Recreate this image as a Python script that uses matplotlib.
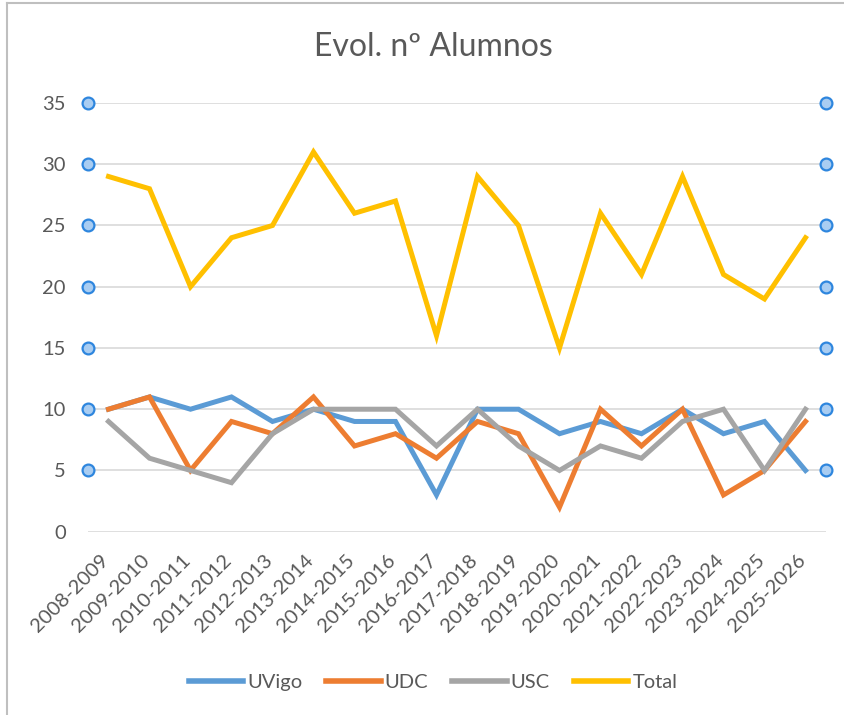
import matplotlib
matplotlib.use("Agg")
import matplotlib.pyplot as plt
from matplotlib.lines import Line2D
from matplotlib.transforms import ScaledTranslation

plt.rcParams['font.family'] = ['Lato', 'DejaVu Sans']

cursos = ["2008-2009", "2009-2010", "2010-2011", "2011-2012", "2012-2013", "2013-2014",
          "2014-2015", "2015-2016", "2016-2017", "2017-2018", "2018-2019", "2019-2020",
          "2020-2021", "2021-2022", "2022-2023", "2023-2024", "2024-2025", "2025-2026"]
uvigo = [10, 11, 10, 11, 9, 10, 9, 9, 3, 10, 10, 8, 9, 8, 10, 8, 9, 5]
udc = [10, 11, 5, 9, 8, 11, 7, 8, 6, 9, 8, 2, 10, 7, 10, 3, 5, 9]
usc = [9, 6, 5, 4, 8, 10, 10, 10, 7, 10, 7, 5, 7, 6, 9, 10, 5, 10]
total = [29, 28, 20, 24, 25, 31, 26, 27, 16, 29, 25, 15, 26, 21, 29, 21, 19, 24]
y_ticks = [0, 5, 10, 15, 20, 25, 30, 35]
marker_levels = [5, 10, 15, 20, 25, 30, 35]

series = [("UVigo", uvigo, "#5b9bd5"), ("UDC", udc, "#ed7d31"),
          ("USC", usc, "#a5a5a5"), ("Total", total, "#ffc000")]

W, H = 845, 715
fig = plt.figure(figsize=(W / 100, H / 100), dpi=100)
left, right, top, bottom = 88, 826, 103, 531.7
ax = fig.add_axes([left / W, 1 - bottom / H, (right - left) / W, (bottom - top) / H])

x = list(range(len(cursos)))
for name, vals, col in series:
    ax.plot(x, vals, color=col, lw=3.6, label=name, solid_joinstyle='miter', zorder=3)

ax.set_xlim(-0.5, len(cursos) - 0.5)
ax.set_ylim(0, 35)
ax.set_yticks(y_ticks)
ax.set_xticks(x)
ax.set_xticklabels(cursos, rotation=45, ha='right', va='top', rotation_mode='anchor')
ax.tick_params(axis='both', length=0, labelsize=14.5, labelcolor='#595959')
ax.tick_params(axis='y', pad=16)
ax.tick_params(axis='x', pad=14)
off = ScaledTranslation(-9 / 100, 0, fig.dpi_scale_trans)
for lab in ax.get_xticklabels():
    lab.set_transform(lab.get_transform() + off)
ax.grid(axis='y', color='#d9d9d9', lw=1.2)
ax.set_axisbelow(True)
for s in ax.spines.values():
    s.set_visible(False)

tr = ax.get_yaxis_transform()
for xa in (0, 1):
    ax.plot([xa] * len(marker_levels), marker_levels, ls='none', marker='o', ms=8.5,
            mfc='#a9cdf2', mec='#2e86de', mew=1.6, transform=tr, clip_on=False, zorder=4)

fig.text(433 / W, 1 - 47 / H, "Evol. nº Alumnos", ha='center', va='center',
         fontsize=23, color='#595959')

leg = fig.legend(loc='center', bbox_to_anchor=(433 / W, 1 - 682 / H), ncol=4, frameon=False,
                 fontsize=14.5, handlelength=2.7, handletextpad=0.2, columnspacing=1.2)
for t in leg.get_texts():
    t.set_color('#595959')
for l in leg.get_lines():
    l.set_linewidth(4)

fig.add_artist(Line2D([7 / W, 7 / W], [0, 1 - 3 / H], color='#bfbfbf', lw=1.5))
fig.add_artist(Line2D([7 / W, 1], [1 - 3 / H, 1 - 3 / H], color='#bfbfbf', lw=1.5))

fig.savefig("out.png", dpi=100)
